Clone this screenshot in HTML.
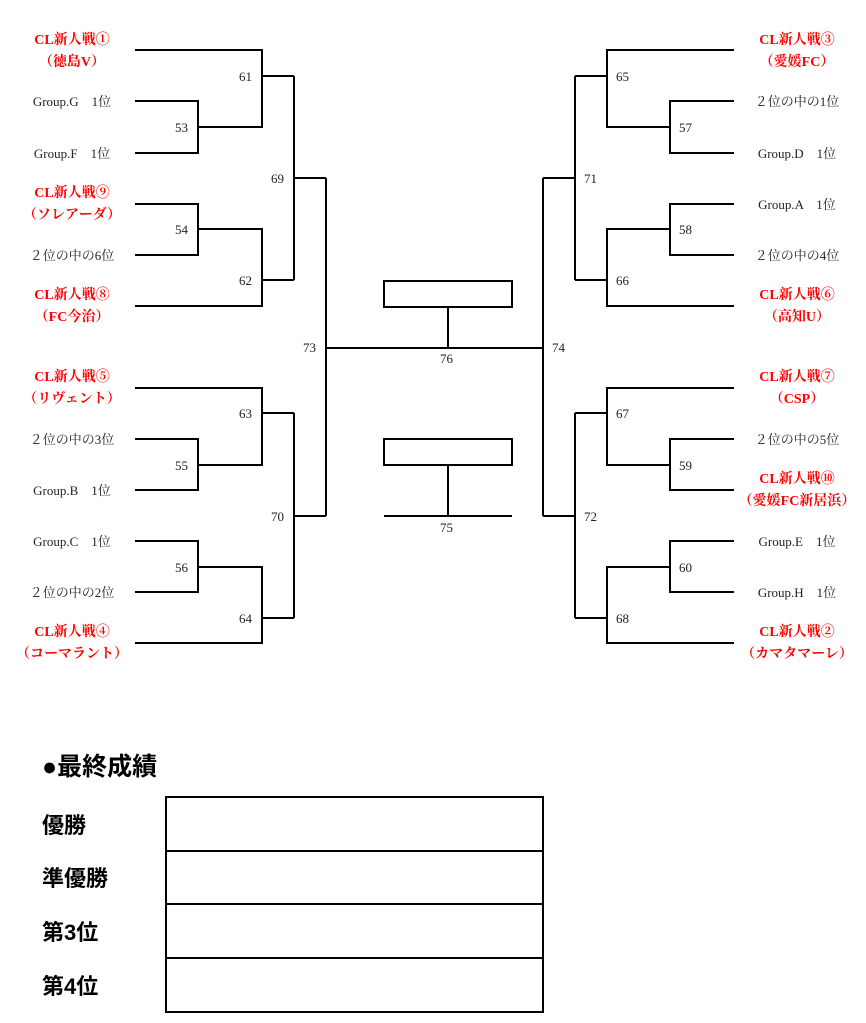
<!DOCTYPE html>
<html><head><meta charset="utf-8"><style>
body{margin:0;background:#fff;width:866px;height:1023px;overflow:hidden}
svg{display:block}
.r{fill:#f00;font-family:"Liberation Serif","Noto Serif CJK SC",serif;font-weight:bold;font-size:14px;text-anchor:middle}
.g{fill:#222;font-family:"Liberation Serif","Noto Serif CJK SC",serif;font-size:13px;text-anchor:middle}
.n{fill:#222;font-family:"Liberation Serif",serif;font-size:13px}
.b{fill:#000;font-family:"Liberation Sans","Noto Sans CJK JP",sans-serif;font-weight:bold;font-size:22px}
.t{fill:#000;font-family:"Liberation Sans","Noto Sans CJK JP",sans-serif;font-weight:bold;font-size:25px}
</style></head><body>
<svg width="866" height="1023" viewBox="0 0 866 1023">
<g fill="none" stroke="#000" stroke-width="2">
<path d="M135 50H262V127H198M135 101H198V153H135M262 76H294M135 204H198V255H135M198 229H262V306H135M262 280H294M294 76V280M294 178H326"/>
<path d="M135 388H262V465H198M135 439H198V490H135M262 413H294M135 541H198V592H135M198 567H262V643H135M262 618H294M294 413V618M294 516H326"/>
<path d="M326 178V516M326 348H543"/>
<path d="M734 50H607V127H670M734 101H670V153H734M607 76H575M734 204H670V255H734M670 229H607V306H734M607 280H575M575 76V280M575 178H543"/>
<path d="M734 388H607V465H670M734 439H670V490H734M607 413H575M734 541H670V592H734M670 567H607V643H734M607 618H575M575 413V618M575 516H543"/>
<path d="M543 178V516"/>
<rect x="384" y="281" width="128" height="26"/>
<path d="M448 307V348"/>
<rect x="384" y="439" width="128" height="26"/>
<path d="M448 465V516M384 516H512"/>
<rect x="166" y="797" width="377" height="215"/>
<path d="M166 851H543M166 904H543M166 958H543"/>
</g>
<text class="r" x="72" y="44">CL新人戦①</text><text class="r" x="72" y="66">（徳島V）</text>
<text class="g" x="72" y="106">Group.G　1位</text>
<text class="g" x="72" y="158">Group.F　1位</text>
<text class="r" x="72" y="197">CL新人戦⑨</text><text class="r" x="72" y="219">（ソレアーダ）</text>
<text class="g" x="72" y="260">２位の中の6位</text>
<text class="r" x="72" y="299">CL新人戦⑧</text><text class="r" x="72" y="321">（FC今治）</text>
<text class="r" x="72" y="381">CL新人戦⑤</text><text class="r" x="72" y="403">（リヴェント）</text>
<text class="g" x="72" y="444">２位の中の3位</text>
<text class="g" x="72" y="495">Group.B　1位</text>
<text class="g" x="72" y="546">Group.C　1位</text>
<text class="g" x="72" y="597">２位の中の2位</text>
<text class="r" x="72" y="636">CL新人戦④</text><text class="r" x="72" y="658">（コーマラント）</text>
<text class="r" x="797" y="44">CL新人戦③</text><text class="r" x="797" y="66">（愛媛FC）</text>
<text class="g" x="797" y="106">２位の中の1位</text>
<text class="g" x="797" y="158">Group.D　1位</text>
<text class="g" x="797" y="209">Group.A　1位</text>
<text class="g" x="797" y="260">２位の中の4位</text>
<text class="r" x="797" y="299">CL新人戦⑥</text><text class="r" x="797" y="321">（高知U）</text>
<text class="r" x="797" y="381">CL新人戦⑦</text><text class="r" x="797" y="403">（CSP）</text>
<text class="g" x="797" y="444">２位の中の5位</text>
<text class="r" x="797" y="483">CL新人戦⑩</text><text class="r" x="797" y="505">（愛媛FC新居浜）</text>
<text class="g" x="797" y="546">Group.E　1位</text>
<text class="g" x="797" y="597">Group.H　1位</text>
<text class="r" x="797" y="636">CL新人戦②</text><text class="r" x="797" y="658">（カマタマーレ）</text>
<text class="n" x="239" y="81">61</text><text class="n" x="175" y="132">53</text>
<text class="n" x="271" y="183">69</text><text class="n" x="175" y="234">54</text>
<text class="n" x="239" y="285">62</text><text class="n" x="303" y="352">73</text>
<text class="n" x="239" y="418">63</text><text class="n" x="175" y="470">55</text>
<text class="n" x="271" y="521">70</text><text class="n" x="175" y="572">56</text>
<text class="n" x="239" y="623">64</text>
<text class="n" x="616" y="81">65</text><text class="n" x="679" y="132">57</text>
<text class="n" x="584" y="183">71</text><text class="n" x="679" y="234">58</text>
<text class="n" x="616" y="285">66</text><text class="n" x="552" y="352">74</text>
<text class="n" x="616" y="418">67</text><text class="n" x="679" y="470">59</text>
<text class="n" x="584" y="521">72</text><text class="n" x="679" y="572">60</text>
<text class="n" x="616" y="623">68</text>
<text class="n" x="440" y="363">76</text><text class="n" x="440" y="532">75</text>
<text class="t" x="42" y="775">●最終成績</text>
<text class="b" x="42" y="833">優勝</text>
<text class="b" x="42" y="886">準優勝</text>
<text class="b" x="42" y="940">第3位</text>
<text class="b" x="42" y="994">第4位</text>
</svg>
</body></html>
